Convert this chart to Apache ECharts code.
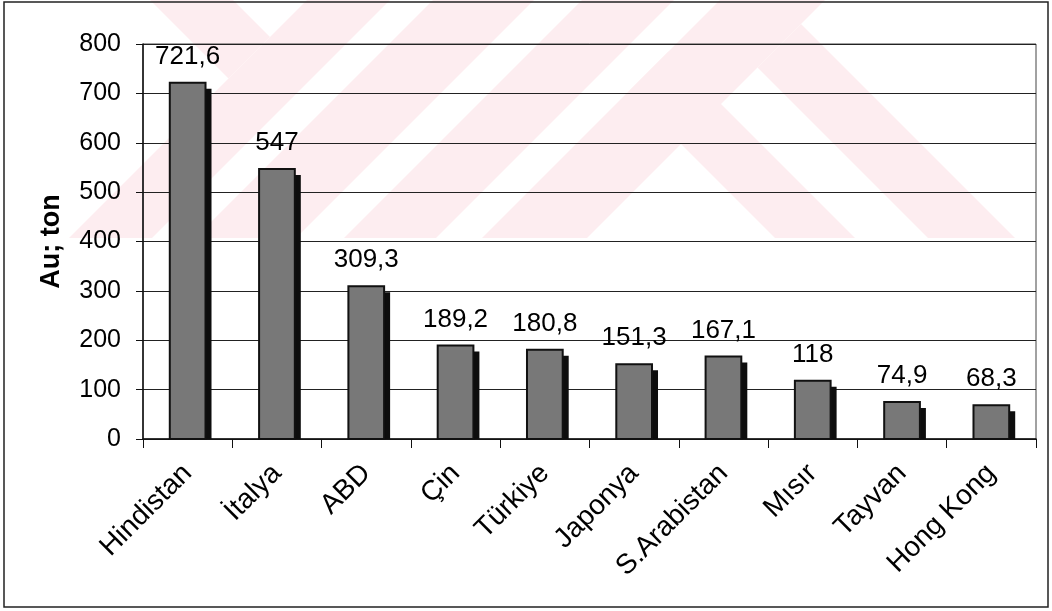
<!DOCTYPE html>
<html>
<head>
<meta charset="utf-8">
<script src="https://cdn.jsdelivr.net/npm/echarts@6/dist/echarts.min.js"></script>
<style>
  html, body { margin: 0; padding: 0; background: #fff; }
  #chart { width: 1052px; height: 611px; }
</style>
</head>
<body>
<div id="chart"></div>
<script>
// data
const countries = ['Hindistan', 'İtalya', 'ABD', 'Çin', 'Türkiye', 'Japonya', 'S.Arabistan', 'Mısır', 'Tayvan', 'Hong Kong']
const goldTon = [721.6, 547, 309.3, 189.2, 180.8, 151.3, 167.1, 118, 74.9, 68.3]
const yTicks = [0, 100, 200, 300, 400, 500, 600, 700, 800]

const FONT = "'Liberation Sans', Arial, sans-serif"
const pink = '#fdedf0'

// faint watermark stripes behind the plot
const stripes = [
  [[307, 0], [390, 0], [152, 238], [69, 238]],
  [[433, 0], [534, 0], [296, 238], [195, 238]],
  [[582, 0], [674, 0], [436, 238], [344, 238]],
  [[720, 0], [825, 0], [587, 238], [482, 238]],
  [[801, 24], [1015, 238], [928, 238], [757.5, 67.5]],
  [[668.5, 51.5], [855, 238], [775, 238], [628.5, 91.5]],
  [[150, 0], [233, 0], [270, 37], [228.5, 78.5]]
]

const chart = echarts.init(document.getElementById('chart'))

const option = {
  animation: false,
  backgroundColor: '#fff',
  textStyle: { fontFamily: FONT, color: '#000' },
  graphic: [
    ...stripes.map(pts => ({
      type: 'polygon',
      z: -10,
      shape: { points: pts },
      style: { fill: pink }
    })),
    {
      type: 'rect',
      z: 10,
      shape: { x: 4, y: 2, width: 1044, height: 605 },
      style: { fill: 'none', stroke: '#222', lineWidth: 1.5 }
    }
  ],
  grid: {
    left: 143,
    right: 16,
    top: 44,
    bottom: 172,
    show: true,
    borderColor: '#444',
    borderWidth: 1
  },
  xAxis: {
    type: 'category',
    data: countries,
    axisLine: { lineStyle: { color: '#111', width: 1.5 } },
    axisTick: { show: true, alignWithLabel: false, length: 9, lineStyle: { color: '#111' } },
    axisLabel: {
      rotate: 45,
      interval: 0,
      margin: 30,
      fontSize: 28,
      color: '#000',
      fontFamily: FONT
    }
  },
  yAxis: {
    type: 'value',
    min: yTicks[0],
    max: yTicks[yTicks.length - 1],
    interval: 100,
    name: 'Au; ton',
    nameLocation: 'middle',
    nameGap: 78,
    nameTextStyle: { fontSize: 27, fontWeight: 'bold', color: '#000', fontFamily: FONT },
    axisLine: { show: true, lineStyle: { color: '#111', width: 1.5 } },
    axisTick: { show: true, length: 7, lineStyle: { color: '#111' } },
    axisLabel: { fontSize: 25, margin: 22, color: '#000', fontFamily: FONT },
    splitLine: { lineStyle: { color: '#222', width: 1.2 } }
  },
  series: [
    {
      type: 'custom',
      data: goldTon.map((v, i) => [i, v]),
      renderItem(params, api) {
        const base = api.coord([api.value(0), 0])
        const top = api.coord([api.value(0), api.value(1)])
        const w = api.size([1, 0])[0] * 0.4
        const h = base[1] - top[1]
        const label = String(goldTon[params.dataIndex]).replace('.', ',')
        return {
          type: 'group',
          children: [
            {
              type: 'rect',
              shape: { x: base[0] - w / 2 + 6, y: top[1] + 6, width: w, height: h - 6 },
              style: { fill: '#0d0d0d' }
            },
            {
              type: 'rect',
              shape: { x: base[0] - w / 2, y: top[1], width: w, height: h },
              style: { fill: '#787878', stroke: '#111', lineWidth: 2 }
            },
            {
              type: 'text',
              x: base[0],
              y: top[1] - 26,
              style: {
                text: label,
                align: 'center',
                verticalAlign: 'middle',
                font: '26px ' + FONT,
                fill: '#000'
              }
            }
          ]
        }
      }
    }
  ]
}

chart.setOption(option)
</script>
</body>
</html>
